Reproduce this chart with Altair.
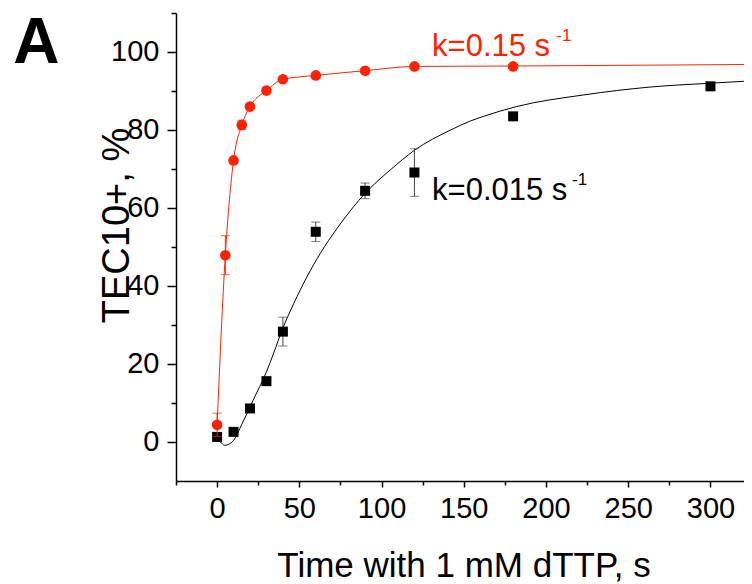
import altair as alt
import pandas as pd

# red series (circles), k = 0.15 s^-1
red_t = [0, 5, 10, 15, 20, 30, 40, 60, 90, 120, 180]
red_v = [4.4, 47.9, 72.2, 81.3, 86.0, 90.1, 93.0, 94.0, 95.2, 96.3, 96.3]
red_err = [3.0, 5.0, 0, 1.2, 0, 0, 0, 0, 0, 0, 0]
# red curve
red_fit_t = [0, 5, 10, 15, 20, 30, 40, 60, 90, 120, 180, 250, 325]
red_fit_v = [4.4, 47.9, 72.2, 81.3, 86.0, 90.1, 93.0, 94.0, 95.2, 96.3, 96.4, 96.6, 96.8]

# black series (squares), k = 0.015 s^-1
blk_t = [0, 10, 20, 30, 40, 60, 90, 120, 180, 300]
blk_v = [1.3, 2.6, 8.6, 15.6, 28.3, 53.9, 64.4, 69.1, 83.5, 91.2]
blk_err = [0, 0, 0, 0.8, 3.7, 2.5, 2.0, 6.1, 0, 0]
# black fitted curve
blk_fit_t = [0, 2, 4.6, 7, 10, 15, 22, 30, 34.4, 39.5, 46.6, 54.7, 62.8, 73, 83.1, 89.2, 97.3,
             105.4, 120, 142, 154, 162, 182, 223, 263, 300, 325]
blk_fit_v = [0.9, 0.0, -0.85, -0.6, 0.4, 4.5, 10.8, 18.0, 22.8, 28.7, 35.5, 42.4, 48.4, 54.8, 60.4, 63.4, 66.8,
             69.8, 74.8, 80.0, 82.3, 83.5, 86.0, 89.0, 91.0, 92.0, 92.6]

# annotations (text, position in data units)
ann_text = ["k=0.15 s", "-1", "k=0.015 s", "-1"]
ann_t = [130.7, 206.3, 130.7, 215.8]
ann_v = [98.9, 102.7, 62.1, 65.9]
ann_color = ["red", "red", "black", "black"]
ann_size = [31, 17, 31, 17]

# panel letter
panel_text = ["A"]
panel_t = [-124.0]
panel_v = [97.2]

x_ticks = list(range(-25, 326, 25))
y_ticks = list(range(0, 111, 10))

RED = "#ff2200"
FONT = "Liberation Sans"

red_df = pd.DataFrame({"t": red_t, "v": red_v, "err": red_err})
red_df["lo"] = red_df["v"] - red_df["err"]
red_df["hi"] = red_df["v"] + red_df["err"]
red_eb = red_df[red_df["err"] > 0]

blk_df = pd.DataFrame({"t": blk_t, "v": blk_v, "err": blk_err})
blk_df["lo"] = blk_df["v"] - blk_df["err"]
blk_df["hi"] = blk_df["v"] + blk_df["err"]
blk_eb = blk_df[blk_df["err"] > 0]

red_fit = pd.DataFrame({"t": red_fit_t, "v": red_fit_v})
blk_fit = pd.DataFrame({"t": blk_fit_t, "v": blk_fit_v})
ann_df = pd.DataFrame({"text": ann_text, "t": ann_t, "v": ann_v, "c": ann_color, "s": ann_size})
panel_df = pd.DataFrame({"text": panel_text, "t": panel_t, "v": panel_v})

xs = alt.Scale(domain=[-25, 320.4], nice=False, zero=False)
ys = alt.Scale(domain=[-10, 110], nice=False, zero=False)

x_axis = alt.Axis(
    values=x_ticks, grid=False, title="Time with 1 mM dTTP, s",
    domainColor="black", domainWidth=1.5, tickColor="black", tickWidth=1.5,
    tickSize={"condition": {"test": "datum.value % 50 == 0", "value": 6}, "value": 4},
    labelExpr="datum.value % 50 == 0 ? datum.label : ''",
    labelFont=FONT, labelFontSize=29, labelColor="black", labelBaseline="alphabetic",
    labelPadding=30, labelFlush=False, labelOverlap=False,
    titleFont=FONT, titleFontSize=35, titleFontWeight="normal", titleColor="black",
    titleX=287.5, titleY=95, titleBaseline="alphabetic", titleAlign="center",
)
y_axis = alt.Axis(
    values=y_ticks, grid=False, title="TEC10+, %",
    domainColor="black", domainWidth=1.5, tickColor="black", tickWidth=1.5,
    tickSize={"condition": {"test": "datum.value % 20 == 0", "value": 9}, "value": 5},
    labelExpr="datum.value % 20 == 0 ? datum.label : ''",
    labelFont=FONT, labelFontSize=29, labelColor="black", labelBaseline="alphabetic",
    labelOffset=8, labelPadding=8, labelFlush=False, labelOverlap=False,
    titleFont=FONT, titleFontSize=38, titleFontWeight="normal", titleColor="black",
    titleX=-48, titleY=212, titleBaseline="alphabetic", titleAlign="center", titleAngle=-90,
)

X = alt.X("t:Q", scale=xs, axis=x_axis)
Y = alt.Y("v:Q", scale=ys, axis=y_axis)

blk_line = alt.Chart(blk_fit).mark_line(color="black", strokeWidth=1, interpolate="monotone", clip=True).encode(x=X, y=Y)
blk_rule = alt.Chart(blk_eb).mark_rule(color="#444444", strokeWidth=1).encode(x="t:Q", y="lo:Q", y2="hi:Q")
blk_cap_lo = alt.Chart(blk_eb).mark_tick(color="#444444", thickness=1, size=9, orient="horizontal").encode(x="t:Q", y="lo:Q")
blk_cap_hi = alt.Chart(blk_eb).mark_tick(color="#444444", thickness=1, size=9, orient="horizontal").encode(x="t:Q", y="hi:Q")
blk_pts = alt.Chart(blk_df).mark_square(color="black", size=100, opacity=1).encode(x="t:Q", y="v:Q")

red_line = alt.Chart(red_fit).mark_line(color=RED, strokeWidth=1, interpolate="monotone", clip=True).encode(x="t:Q", y="v:Q")
red_rule = alt.Chart(red_eb).mark_rule(color=RED, strokeWidth=1).encode(x="t:Q", y="lo:Q", y2="hi:Q")
red_cap_lo = alt.Chart(red_eb).mark_tick(color=RED, thickness=1, size=9, orient="horizontal").encode(x="t:Q", y="lo:Q")
red_cap_hi = alt.Chart(red_eb).mark_tick(color=RED, thickness=1, size=9, orient="horizontal").encode(x="t:Q", y="hi:Q")
red_pts = alt.Chart(red_df).mark_circle(color=RED, size=113, opacity=1).encode(x="t:Q", y="v:Q")

ann = alt.Chart(ann_df).mark_text(align="left", baseline="alphabetic", font=FONT).encode(
    x="t:Q", y="v:Q", text="text:N",
    color=alt.Color("c:N", scale=alt.Scale(domain=["red", "black"], range=[RED, "black"]), legend=None),
    size=alt.Size("s:Q", scale=None, legend=None),
)
panel = alt.Chart(panel_df).mark_text(align="left", baseline="alphabetic", font=FONT,
                                      fontWeight="bold", fontSize=64, color="black").encode(
    x="t:Q", y="v:Q", text="text:N",
)

chart = alt.layer(
    blk_line, blk_rule, blk_cap_lo, blk_cap_hi, blk_pts,
    red_line, red_rule, red_cap_lo, red_cap_hi, red_pts, ann, panel,
).properties(
    width=568, height=468,
    autosize=alt.AutoSizeParams(type="none"),
    padding={"left": 168, "top": 5, "right": 0, "bottom": 103},
).configure_view(stroke=None)

chart.save("out.html", embed_options={"renderer": "svg", "actions": False})
